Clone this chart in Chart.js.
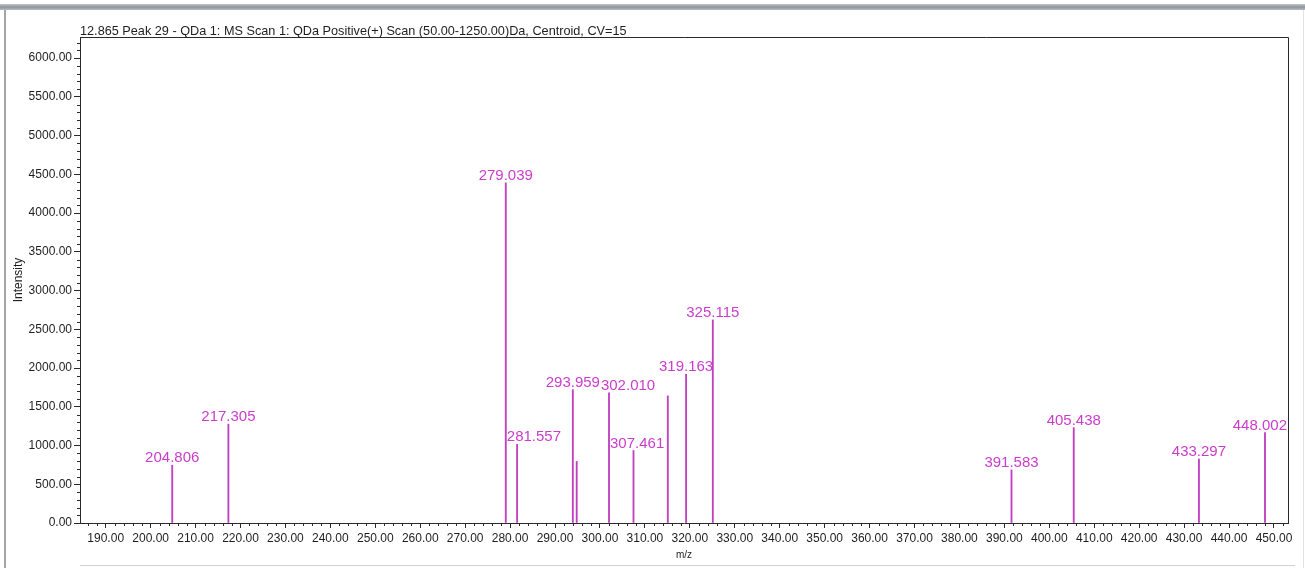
<!DOCTYPE html>
<html>
<head>
<meta charset="utf-8">
<script src="https://cdn.jsdelivr.net/npm/chart.js@4.4.1/dist/chart.umd.min.js"></script>
<style>
  html, body { margin: 0; padding: 0; background: #ffffff; }
  #wrap { width: 1305px; height: 568px; }
</style>
</head>
<body>
<div id="wrap"><canvas id="spectrum" width="1305" height="568"></canvas></div>
<script>
// Centroided peaks of the scan (m/z, intensity) and the m/z annotation shown above each.
const peakMz = [204.806, 217.305, 279.039, 281.557, 293.959, 294.82, 302.010, 307.461,
                315.10, 319.163, 325.115, 391.583, 405.438, 433.297, 448.002];
const peakIntensity = [745, 1275, 4390, 1015, 1720, 795, 1680, 935,
                       1640, 1920, 2620, 685, 1230, 826, 1166];
const peakLabels = ['204.806', '217.305', '279.039', '281.557', '293.959', '', '302.010', '307.461',
                    '', '319.163', '325.115', '391.583', '405.438', '433.297', '448.002'];

// Axis ranges and tick spacing
const mzRange = [184.28, 453.12];
const intensityRange = [0, 6271];
const mzMajorStep = 10, mzMinorStep = 2;
const intensityMajorStep = 500, intensityMinorStep = 100;

const titleText = '12.865 Peak 29 - QDa 1: MS Scan 1: QDa Positive(+) Scan (50.00-1250.00)Da, Centroid, CV=15';

const FONT = "'Liberation Sans', Arial, sans-serif";
const INK = '#1e1e1e';
const PEAK_LINE = '#c040c0';
const PEAK_TEXT = '#cc3ccc';

function stepTicks(min, max, step) {
  const out = [];
  for (let v = Math.ceil(min / step) * step; v <= max + 1e-9; v += step) out.push({ value: +v.toFixed(6) });
  return out;
}

// Window chrome, plot frame and title text
const framePlugin = {
  id: 'frame',
  beforeDraw(chart) {
    const { ctx, width, height } = chart;
    ctx.save();
    ctx.fillStyle = '#ffffff';
    ctx.fillRect(0, 0, width, height);
    const g = ctx.createLinearGradient(0, 3, 0, 11);
    g.addColorStop(0, '#d6d9dc');
    g.addColorStop(0.5, '#8c949c');
    g.addColorStop(1, '#c3c8cc');
    ctx.fillStyle = g;
    ctx.fillRect(0, 4, width, 6);
    ctx.fillStyle = '#a4a4a4';
    ctx.fillRect(4, 10, 2, height - 10);
    ctx.fillStyle = '#e2e2e2';
    ctx.fillRect(width - 2, 10, 1, height - 10);
    ctx.fillStyle = '#d0d0d0';
    ctx.fillRect(80, 565, 1215, 1);
    ctx.restore();
  },
  afterDraw(chart) {
    const { ctx, chartArea: a } = chart;
    ctx.save();
    ctx.strokeStyle = '#2a2a2a';
    ctx.lineWidth = 1;
    ctx.beginPath();
    ctx.moveTo(a.left, a.top + 0.5);
    ctx.lineTo(a.right + 0.5, a.top + 0.5);
    ctx.lineTo(a.right + 0.5, a.bottom);
    ctx.stroke();
    ctx.fillStyle = INK;
    ctx.font = '12.7px ' + FONT;
    ctx.textAlign = 'left';
    ctx.textBaseline = 'middle';
    ctx.fillText(titleText, a.left, 31);
    ctx.restore();
  }
};

// Short minor tick marks between the labelled ticks
const minorTickPlugin = {
  id: 'minorTicks',
  afterDraw(chart) {
    const { ctx, chartArea: a, scales } = chart;
    ctx.save();
    ctx.strokeStyle = '#2a2a2a';
    ctx.lineWidth = 1;
    ctx.beginPath();
    stepTicks(scales.x.min, scales.x.max, mzMinorStep).forEach(t => {
      if (Math.abs(t.value / mzMajorStep - Math.round(t.value / mzMajorStep)) < 1e-6) return;
      const px = Math.round(scales.x.getPixelForValue(t.value)) + 0.5;
      ctx.moveTo(px, a.bottom);
      ctx.lineTo(px, a.bottom + 3);
    });
    stepTicks(scales.y.min, scales.y.max, intensityMinorStep).forEach(t => {
      if (t.value % intensityMajorStep === 0) return;
      const py = Math.round(scales.y.getPixelForValue(t.value)) + 0.5;
      ctx.moveTo(a.left - 3, py);
      ctx.lineTo(a.left, py);
    });
    ctx.stroke();
    ctx.restore();
  }
};

// m/z annotations above the sticks, nudged right when they would run into a line or an earlier label
const peakLabelPlugin = {
  id: 'peakLabels',
  afterDatasetsDraw(chart) {
    const { ctx, chartArea: a } = chart;
    const bars = chart.getDatasetMeta(0).data;
    const tol = 2, textH = 12, gap = 3;
    const placed = [];
    ctx.save();
    ctx.font = '15px ' + FONT;
    ctx.fillStyle = PEAK_TEXT;
    ctx.textAlign = 'left';
    ctx.textBaseline = 'alphabetic';
    bars.forEach((bar, i) => {
      const text = peakLabels[i];
      if (!text) return;
      const w = ctx.measureText(text).width;
      const base = bar.y - gap;
      const topY = base - textH;
      let lx = bar.x - w / 2;
      for (let pass = 0; pass < 12; pass++) {
        let moved = false;
        bars.forEach((other, j) => {
          if (j === i) return;
          if (other.y < base && other.x > lx + tol && other.x < lx + w - tol) {
            lx = other.x + 1;
            moved = true;
          }
        });
        placed.forEach(r => {
          const yOverlap = topY < r.bottom && base > r.top;
          if (yOverlap && lx < r.right - tol && lx + w > r.left + tol) {
            lx = r.right + 1;
            moved = true;
          }
        });
        if (!moved) break;
      }
      if (lx + w > a.right - 1) lx = a.right - 1 - w;
      placed.push({ left: lx, right: lx + w, top: topY, bottom: base });
      ctx.fillText(text, lx, base);
    });
    ctx.restore();
  }
};

const points = peakMz.map((mz, i) => ({ x: mz, y: peakIntensity[i] }));

new Chart(document.getElementById('spectrum'), {
  type: 'bar',
  data: {
    datasets: [{
      data: points,
      backgroundColor: PEAK_LINE,
      borderWidth: 0,
      barThickness: 1.2,
      grouped: false
    }]
  },
  options: {
    responsive: false,
    animation: false,
    devicePixelRatio: 1,
    layout: { padding: { left: 0, top: 37, right: 17, bottom: 0 } },
    plugins: {
      legend: { display: false },
      tooltip: { enabled: false },
      title: { display: false }
    },
    scales: {
      x: {
        type: 'linear',
        min: mzRange[0],
        max: mzRange[1],
        offset: false,
        afterBuildTicks: s => { s.ticks = stepTicks(s.min, s.max, mzMajorStep); },
        afterFit: s => { s.height = 45; },
        grid: { display: true, drawOnChartArea: false, offset: false, tickLength: 5, tickColor: '#2a2a2a' },
        border: { display: true, color: '#2a2a2a', width: 1 },
        ticks: {
          autoSkip: false,
          maxRotation: 0,
          padding: 3,
          color: INK,
          font: { family: FONT, size: 12 },
          callback: v => Number(v).toFixed(2)
        },
        title: {
          display: true,
          text: 'm/z',
          color: INK,
          font: { family: FONT, size: 10 },
          padding: { top: 0, bottom: 7 }
        }
      },
      y: {
        type: 'linear',
        min: intensityRange[0],
        max: intensityRange[1],
        afterBuildTicks: s => { s.ticks = stepTicks(s.min, s.max, intensityMajorStep); },
        afterFit: s => { s.width = 80; },
        grid: { display: true, drawOnChartArea: false, tickLength: 6, tickColor: '#2a2a2a' },
        border: { display: true, color: '#2a2a2a', width: 1 },
        ticks: {
          autoSkip: false,
          padding: 2,
          color: INK,
          font: { family: FONT, size: 12 },
          callback: v => Number(v).toFixed(2)
        },
        title: {
          display: true,
          text: 'Intensity',
          color: INK,
          font: { family: FONT, size: 12 },
          padding: { top: 11, bottom: 0 }
        }
      }
    }
  },
  plugins: [framePlugin, minorTickPlugin, peakLabelPlugin]
});
</script>
</body>
</html>
